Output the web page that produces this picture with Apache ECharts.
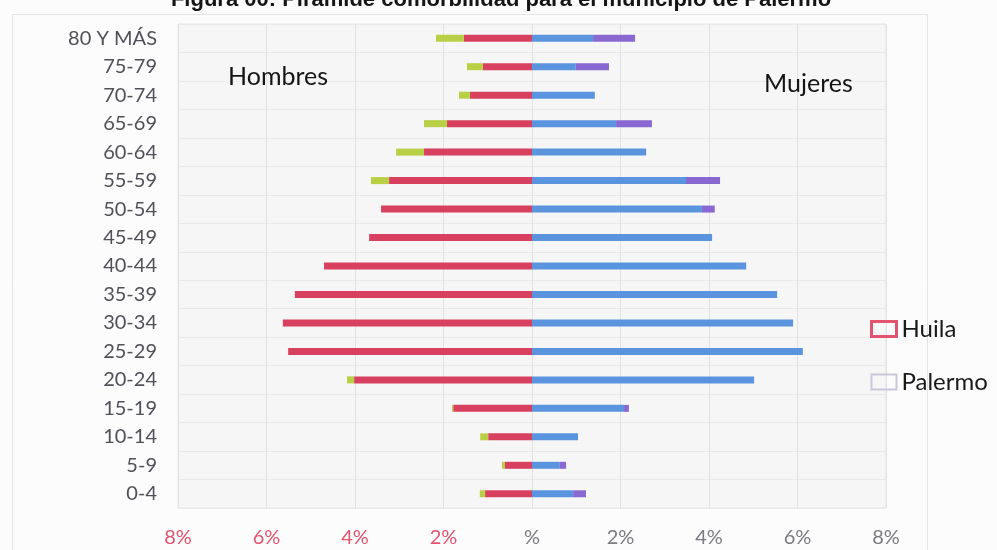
<!DOCTYPE html>
<html>
<head>
<meta charset="utf-8">
<script src="https://cdn.jsdelivr.net/npm/echarts@6/dist/echarts.min.js"></script>
<style>
html,body{margin:0;padding:0;background:#fcfcfc;}
#chart{width:997px;height:550px;}
</style>
</head>
<body>
<div id="chart"></div>
<script>
const categories = ['80 Y MÁS','75-79','70-74','65-69','60-64','55-59','50-54','45-49','40-44','35-39','30-34','25-29','20-24','15-19','10-14','5-9','0-4'];
// Hombres (percent, shown to the left)
const hombresHuila   = [1.54,1.11,1.40,1.92,2.44,3.23,3.41,3.68,4.70,5.36,5.63,5.51,4.02,1.78,0.99,0.61,1.06];
const hombresPalermo = [0.63,0.36,0.25,0.52,0.63,0.41,0,0,0,0,0,0,0.16,0.03,0.18,0.07,0.12];
// Mujeres (percent, shown to the right)
const mujeresHuila   = [1.38,0.99,1.42,1.90,2.58,3.48,3.84,4.07,4.84,5.54,5.90,6.12,5.02,2.08,1.04,0.63,0.93];
const mujeresPalermo = [0.95,0.75,0,0.81,0,0.77,0.29,0,0,0,0,0,0,0.11,0,0.14,0.29];
const xTicks = [-8,-6,-4,-2,0,2,4,6,8];

const FONT = 'Lato, "Open Sans", sans-serif';
const chart = echarts.init(document.getElementById('chart'), null, {renderer:'canvas'});
chart.setOption({
  backgroundColor:'#fcfcfc',
  animation:false,
  grid:{left:178,right:111,top:24,bottom:42,show:true,backgroundColor:'#f6f6f6',borderColor:'#e6e6e6',borderWidth:1},
  legend:{
    orient:'vertical', left:865, top:312, itemWidth:25, itemHeight:15, itemGap:29,
    textStyle:{fontFamily:FONT,fontSize:24,color:'#1a1a1a',lineHeight:20},
    data:[
      {name:'Huila',icon:'rect',itemStyle:{color:'rgba(0,0,0,0)',borderColor:'#e2536f',borderWidth:3}},
      {name:'Palermo',icon:'rect',itemStyle:{color:'rgba(0,0,0,0)',borderColor:'#c8c8da',borderWidth:2}}
    ]
  },
  xAxis:{
    type:'value', min:xTicks[0], max:xTicks[xTicks.length-1], interval:2,
    axisLine:{show:false}, axisTick:{show:false},
    splitLine:{show:true,lineStyle:{color:'#e2e2e2',width:1}},
    axisLabel:{
      margin:20, fontFamily:FONT, fontSize:20, color:'#7a7a80',
      formatter:function(v){
        if(v<0) return '{r|'+(-v)+'%}';
        if(v===0) return '%';
        return v+'%';
      },
      rich:{r:{color:'#e2536f',fontFamily:FONT,fontSize:20}}
    }
  },
  yAxis:{
    type:'category', data:categories, inverse:true,
    axisLine:{show:false}, axisTick:{show:false},
    splitLine:{show:true,lineStyle:{color:'#eaeaea',width:1}},
    axisLabel:{margin:21,fontFamily:FONT,fontSize:20,color:'#505058'}
  },
  series:[
    {name:'Huila',type:'bar',stack:'h',barWidth:7,barGap:'-100%',itemStyle:{color:'#d8405f'},data:hombresHuila.map(v=>-v)},
    {name:'Palermo',type:'bar',stack:'h',barWidth:7,barGap:'-100%',itemStyle:{color:'#b9cf45'},data:hombresPalermo.map(v=>-v)},
    {name:'Huila',type:'bar',stack:'m',barWidth:7,barGap:'-100%',itemStyle:{color:'#5b94de'},data:mujeresHuila},
    {name:'Palermo',type:'bar',stack:'m',barWidth:7,barGap:'-100%',itemStyle:{color:'#8a68d2'},data:mujeresPalermo}
  ],
  graphic:[
    {type:'rect',left:10,top:12,shape:{width:915,height:600},style:{fill:null,stroke:'#e4e4e4',lineWidth:1},z:-1,silent:true},
    {type:'text',x:501,y:11,z:100,style:{text:'Figura 00: Pirámide comorbilidad para el municipio de Palermo',font:'bold 22px "Liberation Sans", Arial, sans-serif',fill:'#151515',align:'center',verticalAlign:'bottom'}},
    {type:'text',x:228,y:77,z:100,style:{text:'Hombres',font:'25px '+FONT,fill:'#151515',align:'left',verticalAlign:'middle'}},
    {type:'text',x:764,y:84,z:100,style:{text:'Mujeres',font:'25px '+FONT,fill:'#151515',align:'left',verticalAlign:'middle'}}
  ]
});
</script>
</body>
</html>
